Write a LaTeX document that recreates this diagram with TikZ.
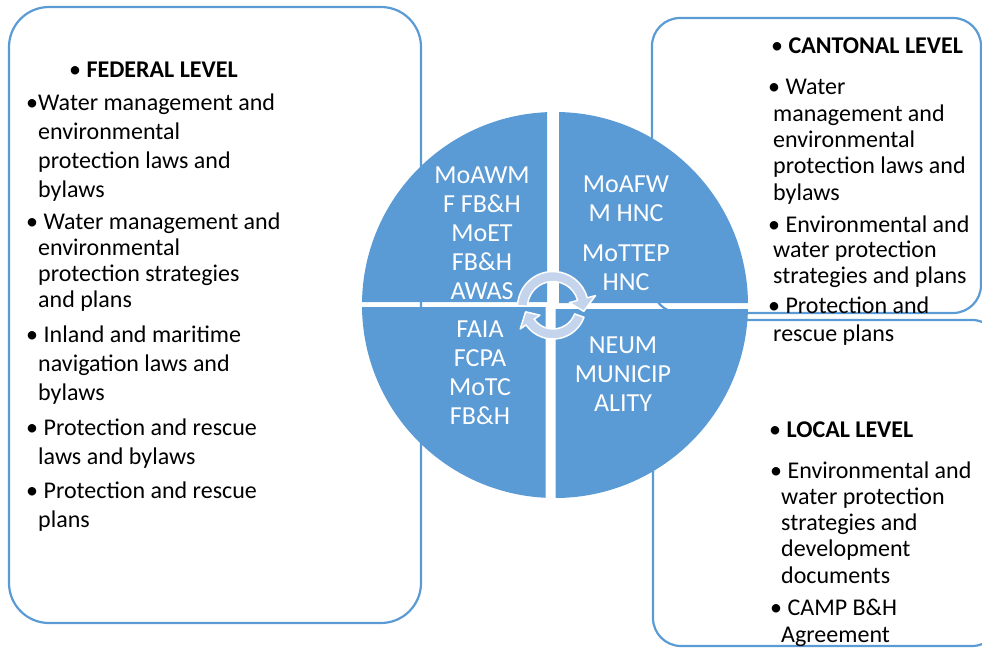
\documentclass[tikz,border=0pt]{standalone}
\usepackage{fontspec}
\setmainfont{Carlito}
\definecolor{accent}{HTML}{5B9BD5}
\definecolor{loopfill}{HTML}{C3D4EC}
\begin{document}
\begin{tikzpicture}[x=1pt,y=-1pt,
	box/.style={draw=accent,line width=2.2pt,rounded corners=#1},
	item/.style={anchor=base west,inner sep=0pt,align=left,font=\fontsize{24}{29}\selectfont},
	quad/.style={anchor=base,inner sep=0pt,align=center,text=white,font=\fontsize{26}{29}\selectfont},
	looparrow/.style={fill=loopfill,draw=white,line width=1.5pt,line join=round}]
	\useasboundingbox (0,0) rectangle (982,648);
	\clip (0,0) rectangle (982,648);
	\draw[box=40] (9,7) rectangle (421,623);
	\draw[box=28] (652,18) rectangle (981,313);
	\draw[box=28] (653,320) rectangle (1000,646);
	\node[item] (fed) at (69,77) {\textbullet\ \textbf{FEDERAL LEVEL}};
	\node[item] (fed1) at (38,197) {\llap{\textbullet}Water management and\\environmental\\protection laws and\\bylaws};
	\node[item,font=\fontsize{24}{26}\selectfont] (fed2) at (38,307) {\llap{\textbullet}\ Water management and\\environmental\\protection strategies\\and plans};
	\node[item] (fed3) at (38,400) {\llap{\textbullet}\ Inland and maritime\\navigation laws and\\bylaws};
	\node[item] (fed4) at (38,464) {\llap{\textbullet}\ Protection and rescue\\laws and bylaws};
	\node[item] (fed5) at (38,527) {\llap{\textbullet}\ Protection and rescue\\plans};
	\node[item] (can) at (771,53) {\textbullet\ \textbf{CANTONAL LEVEL}};
	\node[item,font=\fontsize{24}{26.3}\selectfont] (can1) at (773,200) {\hspace*{-5pt}\textbullet\ Water\\management and\\environmental\\protection laws and\\bylaws};
	\node[item,font=\fontsize{24}{25.5}\selectfont] (can2) at (773,283) {\hspace*{-5pt}\textbullet\ Environmental and\\water protection\\strategies and plans};
	\node[item,font=\fontsize{24}{28}\selectfont] (can3) at (773,341) {\hspace*{-5pt}\textbullet\ Protection and\\rescue plans};
	\node[item] (loc) at (769,437) {\textbullet\ \textbf{LOCAL LEVEL}};
	\node[item,font=\fontsize{24}{26.2}\selectfont] (loc1) at (781,583) {\hspace*{-11pt}\textbullet\ Environmental and\\water protection\\strategies and\\development\\documents};
	\node[item,font=\fontsize{24}{27}\selectfont] (loc2) at (781,642) {\hspace*{-11pt}\textbullet\ CAMP B\&H\\Agreement};
	\begin{scope}
		\clip (555,305) circle (193);
		\fill[accent] (340,100) rectangle (547,302) (559,100) rectangle (770,303)
			(340,307) rectangle (545.5,510) (555.5,309) rectangle (770,510);
	\end{scope}
	\node[quad] (tl) at (482,299) {MoAWM\\F FB\&H\\MoET\\FB\&H\\AWAS};
	\node[quad] (tr) at (626,290) {MoAFW\\M HNC\\[11pt]MoTTEP\\HNC};
	\node[quad] (bl) at (480,424) {FAIA\\FCPA\\MoTC\\FB\&H};
	\node[quad] (br) at (623,411) {NEUM\\MUNICIP\\ALITY};
	\begin{scope}[shift={(553,307)}]
		\draw[looparrow] (182:35.5) arc[start angle=182,end angle=345,radius=35.5] -- (345:44) -- (8:31)
			-- (345:17) -- (345:25.5) arc[start angle=345,end angle=182,radius=25.5] -- cycle;
	\end{scope}
	\begin{scope}[shift={(553,306)}]
		\draw[looparrow] (20:33) arc[start angle=20,end angle=145,radius=33] -- (145:40) -- (168:28)
			-- (145:16) -- (145:23) arc[start angle=145,end angle=20,radius=23] -- cycle;
	\end{scope}
\end{tikzpicture}
\end{document}
